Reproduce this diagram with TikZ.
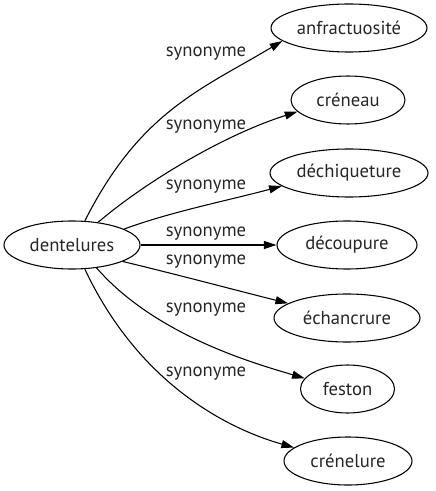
\documentclass[tikz,border=0pt]{standalone}
\usepackage{fontspec}
\setmainfont{PT Sans}
\usetikzlibrary{shapes.geometric,arrows.meta}
\begin{document}
\begin{tikzpicture}[x=0.75pt,y=-0.75pt,
  term/.style={draw=black,line width=0.8pt,ellipse,inner sep=0pt,minimum height=36pt,text=black!85,font=\fontsize{14pt}{16pt}\selectfont},
  lbl/.style={inner sep=0pt,text=black!85,font=\fontsize{14pt}{16pt}\selectfont},
  edge/.style={draw=black,line width=0.8pt,-{Triangle[length=9.5pt,width=6pt]}}]
\useasboundingbox (0,0) rectangle (435,491);
\node[term,minimum width=102pt] (src) at (72,245) {dentelures};
\node[term,minimum width=117pt] (anf) at (349,28) {anfractuosité};
\node[term,minimum width=85.5pt] (cre) at (348,100) {créneau};
\node[term,minimum width=118.5pt] (dech) at (349,173) {déchiqueture};
\node[term,minimum width=105pt] (dec) at (347,245) {découpure};
\node[term,minimum width=109.5pt] (ech) at (347,318) {échancrure};
\node[term,minimum width=70.5pt] (fes) at (347.5,389) {feston};
\node[term,minimum width=96pt] (cren) at (348,461) {crénelure};
\node[lbl] (l1) at (206,54) {synonyme};
\node[lbl] (l2) at (206,127) {synonyme};
\node[lbl] (l3) at (206,187) {synonyme};
\node[lbl] (l4) at (206,234) {synonyme};
\node[lbl] (l5) at (206,262) {synonyme};
\node[lbl] (l6) at (206,310) {synonyme};
\node[lbl] (l7) at (206,374) {synonyme};
\draw[edge] (src.62) .. controls (140,112) and (200,90) .. (anf.191);
\draw[edge] (src.41) .. controls (143,184) and (221,136) .. (cre.193);
\draw[edge] (src.17) .. controls (170,212) and (230,200) .. (dech.191);
\draw[edge] (src.east) -- (dec.west);
\draw[edge] (src.-18) .. controls (175,274) and (235,290) .. (ech.166);
\draw[edge] (src.-43) .. controls (155,335) and (253,363) .. (fes.166);
\draw[edge] (src.-62) .. controls (138,382) and (225,428) .. (cren.166);
\end{tikzpicture}
\end{document}
